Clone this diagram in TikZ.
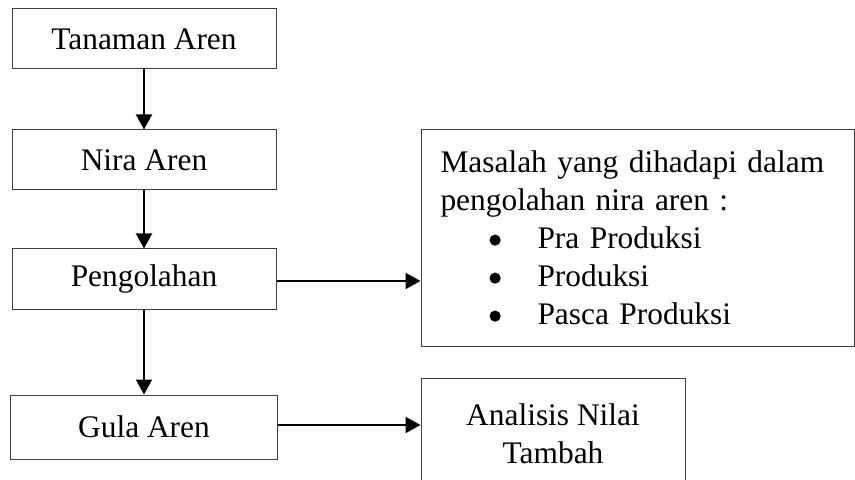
\documentclass[tikz,border=0pt]{standalone}
\usepackage{fontspec}
\setmainfont{Liberation Serif}
\usetikzlibrary{arrows.meta}
\newcommand{\itembullet}[1]{\hspace*{24.5pt}\makebox[24pt][l]{\tikz[baseline=0pt]\fill (2.8pt,4.3pt) circle (2.8pt);}#1}
\begin{document}
\begin{tikzpicture}[x=0.5pt,y=-0.5pt,
    box/.style={draw=black!75,line width=0.5pt,minimum width=132pt,minimum height=30pt,
      inner sep=0pt,font=\fontsize{15.7}{19}\selectfont},
    flow/.style={line width=1pt,-{Triangle[width=8pt,length=7.5pt]}}]
  \clip (0,0) rectangle (855,480);
  \draw
    (144,39) node[box] (tanaman){Tanaman Aren}
    (144,160) node[box] (nira){Nira Aren}
    (144,279) node[box] (olah){Pengolahan}
    (144,427) node[box,minimum width=133.5pt,minimum height=32pt] (gula){Gula Aren}
    (637.5,238) node[box,minimum width=216.5pt,minimum height=108pt,text width=197pt,align=left] (masalah)
      {Masalah yang dihadapi dalam\\
       pengolahan nira aren :\\
       \itembullet{Pra Produksi}\\
       \itembullet{Produksi}\\
       \itembullet{Pasca Produksi}}
    (553,433.5) node[box,minimum width=132pt,minimum height=55.5pt,align=center] (nilai)
      {Analisis Nilai\\Tambah};
  \begin{scope}[flow]
    \draw (tanaman) to (nira);
    \draw (nira) to (olah);
    \draw (olah) to (gula);
    \draw ([yshift=-1pt]olah.east) to ([yshift=-1pt]olah.east -| masalah.west);
    \draw ([yshift=1pt]gula.east) to ([yshift=1pt]gula.east -| nilai.west);
  \end{scope}
\end{tikzpicture}
\end{document}
